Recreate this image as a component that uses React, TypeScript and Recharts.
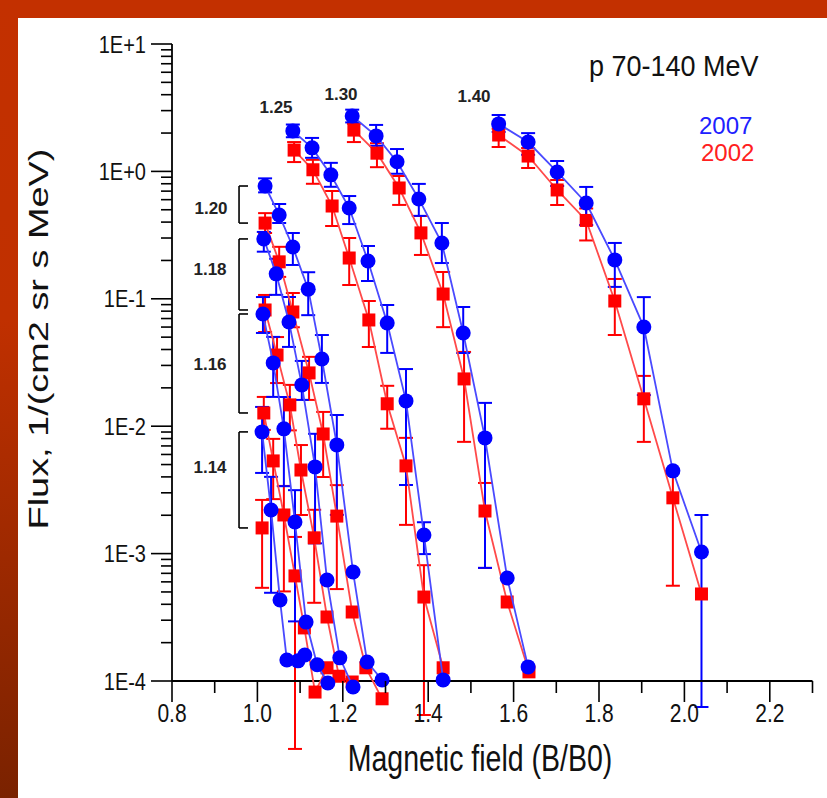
import React from 'react';
import { ComposedChart, Scatter, XAxis, YAxis, ErrorBar, ReferenceLine } from 'recharts';

// [B/B0, flux, error up (decades), error down (decades)]
type Pt = [number, number, number, number];

const l140_2007: Pt[] = [
  [1.565, 2.36, 0.07, 0.063], [1.634, 1.7, 0.07, 0.1], [1.702, 0.99, 0.086, 0.11],
  [1.77, 0.565, 0.126, 0.173], [1.837, 0.202, 0.133, 0.212], [1.905, 0.06, 0.235, 0.534],
  [1.973, 0.00446, 0, 0], [2.04, 0.00103, 0.29, 1.217],
];
const l140_2002: Pt[] = [
  [1.565, 1.93, 0.05, 0.094], [1.634, 1.32, 0.063, 0.094], [1.702, 0.715, 0.078, 0.118],
  [1.77, 0.412, 0.094, 0.157], [1.837, 0.0961, 0.173, 0.267], [1.905, 0.0164, 0.18, 0.338],
  [1.973, 0.00274, 0.2, 0.69], [2.04, 0.000482, 0, 0],
];
const l130_2007: Pt[] = [
  [1.222, 2.72, 0.05, 0.05], [1.278, 1.9, 0.086, 0.078], [1.327, 1.19, 0.1, 0.094],
  [1.378, 0.608, 0.118, 0.133], [1.432, 0.274, 0.157, 0.157], [1.482, 0.0539, 0.204, 0.157],
  [1.533, 0.00809, 0.275, 1.02], [1.585, 0.000644, 0, 0], [1.634, 0.000129, 0, 0],
];
const l130_2002: Pt[] = [
  [1.226, 2.11, 0.05, 0.094], [1.28, 1.39, 0.078, 0.11], [1.332, 0.741, 0.094, 0.133],
  [1.383, 0.329, 0.133, 0.173], [1.435, 0.109, 0.173, 0.26], [1.484, 0.0235, 0.212, 0.494],
  [1.533, 0.00216, 0.22, 0.447], [1.585, 0.000417, 0, 0], [1.636, 0.000118, 0, 0],
];
const l125_2007: Pt[] = [
  [1.083, 2.08, 0.05, 0.05], [1.128, 1.53, 0.078, 0.078], [1.172, 0.94, 0.094, 0.094],
  [1.215, 0.516, 0.094, 0.126], [1.259, 0.198, 0.118, 0.157], [1.304, 0.0646, 0.141, 0.235],
  [1.348, 0.0158, 0.25, 0.66], [1.39, 0.0014, 0.1, 0.15], [1.435, 0.000102, 0, 0],
];
const l125_2002: Pt[] = [
  [1.086, 1.47, 0.063, 0.094], [1.13, 1.03, 0.078, 0.11], [1.175, 0.535, 0.118, 0.157],
  [1.215, 0.209, 0.157, 0.212], [1.261, 0.0682, 0.149, 0.212], [1.304, 0.015, 0.141, 0.196],
  [1.348, 0.00488, 0.22, 0.463], [1.39, 0.000456, 0.25, 0.926], [1.435, 0.000127, 0, 0],
];
const l120_2007: Pt[] = [
  [1.018, 0.768, 0.06, 0.05], [1.051, 0.455, 0.086, 0.063], [1.083, 0.255, 0.11, 0.141],
  [1.119, 0.119, 0.133, 0.204], [1.151, 0.0337, 0.188, 0.188], [1.186, 0.00713, 0.235, 0.549],
  [1.224, 0.000718, 0, 0], [1.257, 0.000141, 0, 0], [1.292, 0.000102, 0, 0],
];
const l120_2002: Pt[] = [
  [1.018, 0.393, 0.078, 0.078], [1.051, 0.195, 0.118, 0.118], [1.083, 0.0788, 0.149, 0.12],
  [1.121, 0.0262, 0.126, 0.212], [1.154, 0.00869, 0.173, 0.338], [1.186, 0.00197, 0.243, 0.573],
  [1.222, 0.000348, 0, 0], [1.254, 0.000127, 0, 0], [1.292, 0.0000725, 0, 0],
];
const l118_2007: Pt[] = [
  [1.015, 0.295, 0.055, 0.1], [1.044, 0.157, 0.118, 0.165], [1.074, 0.0658, 0.196, 0.196],
  [1.104, 0.0211, 0.188, 0.118], [1.135, 0.00479, 0.26, 0.6], [1.163, 0.000621, 0, 0],
  [1.193, 0.000152, 0, 0], [1.224, 0.0000897, 0, 0],
];
const l118_2002: Pt[] = [
  [1.018, 0.0817, 0.118, 0.173], [1.046, 0.0362, 0.141, 0.22], [1.076, 0.0147, 0.157, 0.2],
  [1.102, 0.00453, 0.196, 0.353], [1.133, 0.00133, 0.22, 0.51], [1.163, 0.000318, 0, 0],
  [1.191, 0.000109, 0, 0], [1.222, 0.0000982, 0, 0],
];
const l116_2007: Pt[] = [
  [1.013, 0.076, 0.133, 0.149], [1.037, 0.0314, 0.204, 0.267], [1.062, 0.00953, 0.25, 0.45],
  [1.088, 0.00177, 0.25, 0.78], [1.114, 0.00029, 0, 0], [1.14, 0.000134, 0, 0],
  [1.165, 0.0000964, 0, 0],
];
const l116_2002: Pt[] = [
  [1.015, 0.0127, 0.126, 0.133], [1.037, 0.00534, 0.173, 0.3], [1.062, 0.00201, 0.228, 0.6],
  [1.088, 0.000668, 0.306, 1.358], [1.11, 0.000261, 0, 0], [1.135, 0.0000819, 0, 0],
  [1.163, 0.000127, 0, 0],
];
const l114_2007: Pt[] = [
  [1.011, 0.00902, 0.196, 0.322], [1.032, 0.0022, 0.26, 0.65], [1.053, 0.000432, 0, 0],
  [1.069, 0.000146, 0, 0], [1.095, 0.000144, 0, 0], [1.111, 0.00016, 0, 0],
];
const l114_2002: Pt[] = [
  [1.011, 0.00159, 0.22, 0.47],
];

const xTicks = [0.8, 0.9, 1.0, 1.1, 1.2, 1.3, 1.4, 1.5, 1.6, 1.7, 1.8, 1.9, 2.0, 2.1, 2.2, 2.3];
const xLabels = ['0.8', '', '1.0', '', '1.2', '', '1.4', '', '1.6', '', '1.8', '', '2.0', '', '2.2', ''];
const yDecades = [-4, -3, -2, -1, 0, 1];
const yLabels = ['1E-4', '1E-3', '1E-2', '1E-1', '1E+0', '1E+1'];
const yTicks: number[] = [];
yDecades.forEach((d) => {
  [1, 2, 3, 4, 5, 6, 7, 8, 9].forEach((m) => {
    if (d < 1 || m === 1) yTicks.push(+(m * Math.pow(10, d)).toPrecision(3));
  });
});

const shells = ['1.14', '1.16', '1.18', '1.20'];
const shellSeries: Pt[][][] = [
  [l114_2007, l114_2002], [l116_2007, l116_2002], [l118_2007, l118_2002], [l120_2007, l120_2002],
];
const bracketB = [0.957, 0.978];

const BLUE = '#0000ff';
const RED = '#ff0000';
const font = "'Liberation Sans', Arial, sans-serif";
const SY = 1.22; // vertical stretch of the lettering

const toRows = (pts: Pt[]) =>
  pts.map(([b, f, up, dn]) => ({
    b,
    f,
    err: up === 0 && dn === 0 ? undefined : [f - f * Math.pow(10, -dn), f * Math.pow(10, up) - f],
  }));

const Circle = (p: any) => {
  const { cx, cy } = p;
  if (cx == null || cy == null) return null;
  return <circle cx={cx} cy={cy} r={7.5} fill={BLUE} />;
};
const Square = (p: any) => {
  const { cx, cy } = p;
  if (cx == null || cy == null) return null;
  return <rect x={cx - 6.5} y={cy - 6.5} width={13} height={13} fill={RED} />;
};

const YTick = (p: any) => {
  const { x, y, payload } = p;
  const v = payload.value;
  const lg = Math.log10(v);
  const major = Math.abs(lg - Math.round(lg)) < 1e-6;
  const idx = yDecades.indexOf(Math.round(lg));
  return (
    <g>
      <line x1={x - (major ? 21 : 11)} y1={y} x2={x} y2={y} stroke="#000" strokeWidth={1.6} />
      {major && (
        <text transform={`translate(${x - 26},${y + 8.5}) scale(1,${SY})`} textAnchor="end" fontSize={20}
          fill="#111" fontFamily={font}>
          {yLabels[idx]}
        </text>
      )}
    </g>
  );
};

const XTick = (p: any) => {
  const { x, y, index } = p;
  const label = xLabels[index];
  const major = label !== '';
  return (
    <g>
      <line x1={x} y1={y} x2={x} y2={y + (major ? 21 : 12)} stroke="#000" strokeWidth={1.6} />
      {major && (
        <text transform={`translate(${x},${y + 41}) scale(1,${SY})`} textAnchor="middle" fontSize={21}
          fill="#111" fontFamily={font}>
          {label}
        </text>
      )}
    </g>
  );
};

const series: { pts: Pt[]; blue: boolean }[] = [
  { pts: l114_2002, blue: false }, { pts: l116_2002, blue: false }, { pts: l118_2002, blue: false },
  { pts: l120_2002, blue: false }, { pts: l125_2002, blue: false }, { pts: l130_2002, blue: false },
  { pts: l140_2002, blue: false },
  { pts: l114_2007, blue: true }, { pts: l116_2007, blue: true }, { pts: l118_2007, blue: true },
  { pts: l120_2007, blue: true }, { pts: l125_2007, blue: true }, { pts: l130_2007, blue: true },
  { pts: l140_2007, blue: true },
];

export default function App() {
  return (
    <div style={{ position: 'fixed', left: 0, top: 0, width: 827, height: 798, background: '#fff', overflow: 'hidden' }}>
      <style>{'.recharts-surface g[clip-path]{clip-path:none !important;}'}</style>
      <div style={{ position: 'absolute', left: 0, top: 0, width: 827, height: 18, background: '#c33000' }} />
      <div style={{ position: 'absolute', left: 0, top: 0, width: 18, height: 798, background: 'linear-gradient(#c33000, #c03000 40%, #7a2200)' }} />
      <div style={{ position: 'absolute', left: 0, top: 0 }}>
        <ComposedChart width={827} height={798} margin={{ top: 44, right: 14.5, bottom: 0, left: 0 }}>
          <XAxis type="number" dataKey="b" domain={[0.8, 2.3]} ticks={xTicks} allowDataOverflow
            height={117} tickSize={0} tickMargin={0} tick={<XTick />} interval={0}
            axisLine={{ stroke: '#000', strokeWidth: 1.8 }} />
          <YAxis type="number" dataKey="f" scale="log" domain={[1e-4, 10]} ticks={yTicks} allowDataOverflow
            width={172} tickSize={0} tickMargin={0} tick={<YTick />} interval={0}
            axisLine={{ stroke: '#000', strokeWidth: 1.8 }} />
          {shellSeries.map(([b07, b02], i) => (
            <React.Fragment key={shells[i]}>
              <ReferenceLine ifOverflow="visible" stroke="#000" strokeWidth={1.6}
                segment={[{ x: bracketB[0], y: b07[0][1] }, { x: bracketB[0], y: b02[0][1] }]} />
              <ReferenceLine ifOverflow="visible" stroke="#000" strokeWidth={1.6}
                segment={[{ x: bracketB[0], y: b07[0][1] }, { x: bracketB[1], y: b07[0][1] }]} />
              <ReferenceLine ifOverflow="visible" stroke="#000" strokeWidth={1.6}
                segment={[{ x: bracketB[0], y: b02[0][1] }, { x: bracketB[1], y: b02[0][1] }]} />
            </React.Fragment>
          ))}
          {series.map((s, i) => (
            <Scatter key={i} data={toRows(s.pts)} isAnimationActive={false}
              line={{ stroke: s.blue ? '#4a4aff' : '#ff4a4a', strokeWidth: 1.8 }}
              lineJointType="linear" shape={s.blue ? <Circle /> : <Square />}>
              <ErrorBar dataKey="err" direction="y" width={7} stroke={s.blue ? BLUE : RED}
                strokeWidth={2} isAnimationActive={false} />
            </Scatter>
          ))}
        </ComposedChart>
      </div>
      <svg width={827} height={798} style={{ position: 'absolute', left: 0, top: 0, pointerEvents: 'none' }}>
        <text transform={`translate(589,76) scale(1,1.1)`} fontSize={27} fontFamily={font} fill="#111">p 70-140 MeV</text>
        <text x={699} y={134} fontSize={24} fontFamily={font} fill="#2020ff">2007</text>
        <text x={701} y={161} fontSize={24} fontFamily={font} fill="#ff2020">2002</text>
        <g fontSize={17} fontWeight="bold" fontFamily={font} fill="#222" textAnchor="middle">
          <text x={276} y={113}>1.25</text>
          <text x={341} y={100}>1.30</text>
          <text x={474} y={102}>1.40</text>
          <text x={211} y={214}>1.20</text>
          <text x={210} y={275}>1.18</text>
          <text x={210} y={370}>1.16</text>
          <text x={210} y={473}>1.14</text>
        </g>
        <text transform={`translate(480,771) scale(1,1.3)`} textAnchor="middle" fontSize={28.5} fontFamily={font} fill="#111">
          Magnetic field (B/B0)
        </text>
        <text transform="translate(48,339) rotate(-90) scale(1.33,1)" textAnchor="middle" fontSize={28.5} fontFamily={font} fill="#111">
          Flux, 1/(cm2 sr s MeV)
        </text>
      </svg>
    </div>
  );
}
